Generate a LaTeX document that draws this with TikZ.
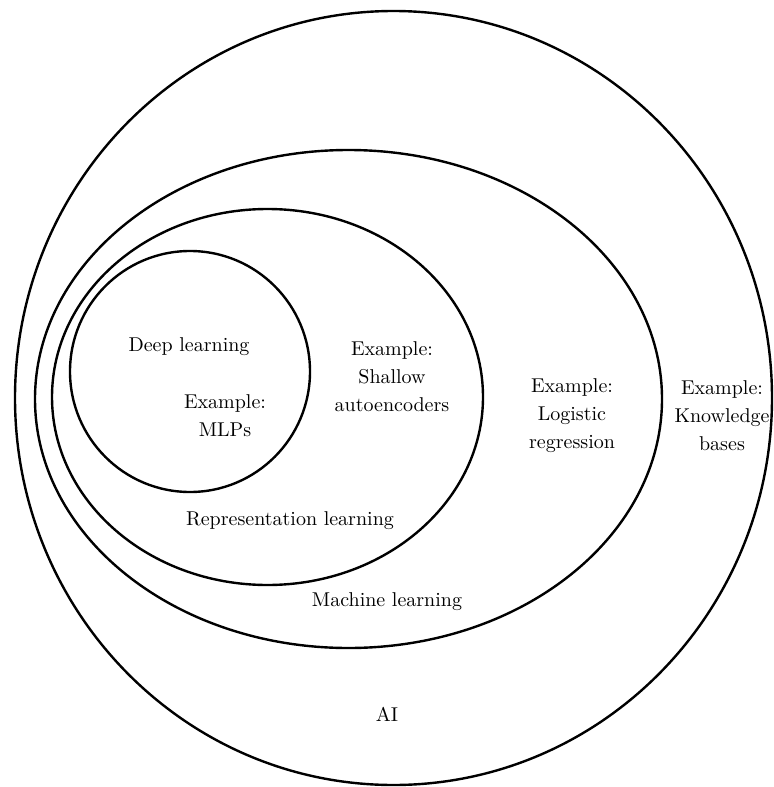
\documentclass[tikz,border=0pt]{standalone}
\usetikzlibrary{shapes.geometric}
\begin{document}
\begin{tikzpicture}[x=0.5pt,y=-0.5pt,
  setline/.style={draw=black,line width=1.2pt},
  lbl/.style={align=center,inner sep=0pt,font=\fontsize{10}{14}\selectfont}]
\useasboundingbox (0,0) rectangle (774,787);
% sets
\draw[setline] (393.5,398) ellipse [x radius=189.25pt, y radius=193.5pt];
\draw[setline] (348.5,399) ellipse [x radius=156.75pt, y radius=124.5pt];
\draw[setline] (267.5,397) ellipse [x radius=107.75pt, y radius=94pt];
\draw[setline] (190,371.5) ellipse [x radius=60pt, y radius=60.25pt];
% labels
\node[lbl] (dl) at (189,347) {Deep learning};
\node[lbl] (mlp) at (225,416) {Example:\\MLPs};
\node[lbl] (sae) at (392,377) {Example:\\Shallow\\autoencoders};
\node[lbl] (lr) at (572,416) {Example:\\Logistic\\regression};
\node[lbl] (kb) at (722,416) {Example:\\Knowledge\\bases};
\node[lbl] (rl) at (290,521) {Representation learning};
\node[lbl] (ml) at (387,602) {Machine learning};
\node[lbl] (ai) at (387,714) {AI};
\end{tikzpicture}
\end{document}
